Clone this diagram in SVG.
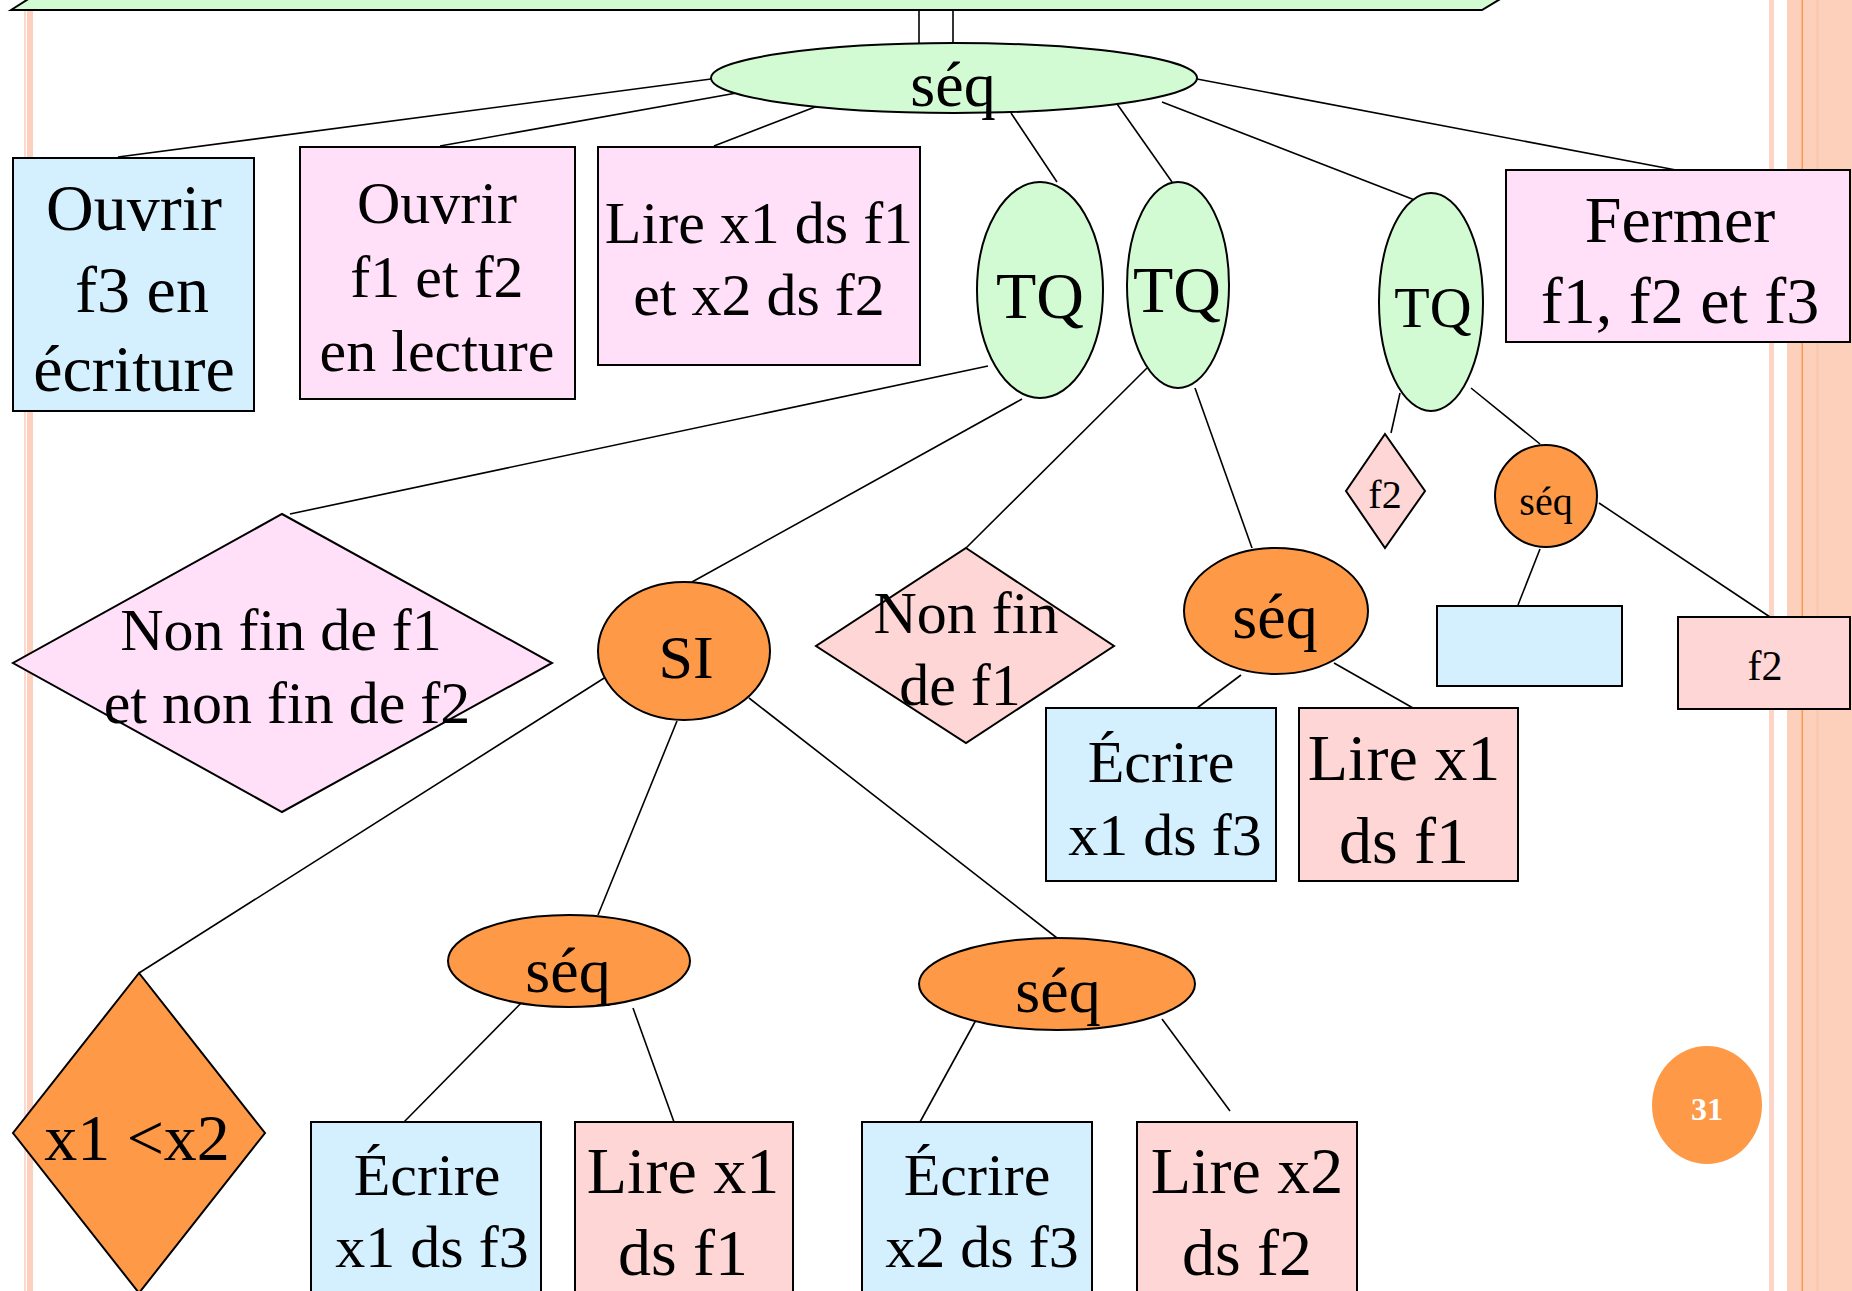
<svg xmlns="http://www.w3.org/2000/svg" width="1852" height="1291" viewBox="0 0 1852 1291">
<style>
text{font-family:"Liberation Serif","Times New Roman",serif;fill:#000;text-anchor:middle}
.s{stroke:#000;stroke-width:2}
.green{fill:#D3FBD3}.pink{fill:#FFE0F8}.blue{fill:#D4F0FE}.rose{fill:#FFD6D6}.orange{fill:#FE9A47}
#connectors line{stroke:#000;stroke-width:1.6}
.f60{font-size:60px}.f66{font-size:66px}.f64{font-size:64px}.f40{font-size:40px}
</style>
<rect width="1852" height="1291" fill="#fff"/>
<g id="decor">
<rect x="24" y="10" width="2" height="1281" fill="#FDD8CC"/>
<rect x="27" y="10" width="6" height="1281" fill="#FDD0BE"/>
<rect x="1769" y="0" width="5" height="1291" fill="#FDD5C8"/>
<rect x="1787" y="0" width="65" height="1291" fill="#FDD0BC"/>
<rect x="1801.5" y="0" width="1.5" height="1291" fill="#F99A50"/>
<rect x="1816" y="0" width="3" height="1291" fill="#FCC8B0"/>
<polygon points="11,10 30,-2 1502,-2 1482,10" class="green s"/>
</g>
<g id="connectors">
<line x1="919" y1="10" x2="919" y2="43"/>
<line x1="953" y1="10" x2="953" y2="43"/>
<line x1="711" y1="79" x2="118" y2="157"/>
<line x1="759" y1="89" x2="440" y2="146"/>
<line x1="828" y1="102" x2="714" y2="146"/>
<line x1="1011" y1="113" x2="1057" y2="182"/>
<line x1="1115" y1="101" x2="1172" y2="182"/>
<line x1="1162" y1="102" x2="1425" y2="204"/>
<line x1="1197" y1="79" x2="1676" y2="170"/>
<line x1="988" y1="366" x2="290" y2="514"/>
<line x1="1022" y1="399" x2="692" y2="582"/>
<line x1="1147" y1="368" x2="966" y2="548"/>
<line x1="1195" y1="388" x2="1252" y2="548"/>
<line x1="1400" y1="393" x2="1391" y2="433"/>
<line x1="1471" y1="388" x2="1540" y2="444"/>
<line x1="1241" y1="675" x2="1197" y2="708"/>
<line x1="1334" y1="663" x2="1413" y2="708"/>
<line x1="1540" y1="549" x2="1518" y2="605"/>
<line x1="1599" y1="503" x2="1770" y2="617"/>
<line x1="609" y1="675" x2="139" y2="973"/>
<line x1="677" y1="721" x2="598" y2="915"/>
<line x1="749" y1="698" x2="1057" y2="938"/>
<line x1="528" y1="996" x2="404" y2="1122"/>
<line x1="633" y1="1008" x2="674" y2="1122"/>
<line x1="976" y1="1020" x2="920" y2="1122"/>
<line x1="1162" y1="1019" x2="1230" y2="1111"/>
</g>
<g id="seq-main"><ellipse cx="954" cy="78" rx="243" ry="35" class="green s"/><text x="953" y="106" class="f64">séq</text></g>
<g id="ouvrir-f3"><rect x="13" y="158" width="241" height="253" class="blue s"/><text x="134" y="230" class="f66">Ouvrir</text><text x="142" y="312" class="f66">f3 en</text><text x="134" y="391" class="f66">écriture</text></g>
<g id="ouvrir-f1f2"><rect x="300" y="147" width="275" height="252" class="pink s"/><text x="437" y="223" class="f60">Ouvrir</text><text x="437" y="297" class="f60">f1 et f2</text><text x="437" y="371" class="f60">en lecture</text></g>
<g id="lire-x1x2"><rect x="598" y="147" width="322" height="218" class="pink s"/><text x="759" y="243" class="f60">Lire x1 ds f1</text><text x="759" y="315" class="f60">et x2 ds f2</text></g>
<g id="tq1"><ellipse cx="1040" cy="290" rx="63" ry="108" class="green s"/><text x="1040" y="318" class="f66">TQ</text></g>
<g id="tq2"><ellipse cx="1178" cy="285" rx="51" ry="103" class="green s"/><text x="1177" y="312" class="f66">TQ</text></g>
<g id="tq3"><ellipse cx="1431" cy="302" rx="52" ry="109" class="green s"/><text x="1433" y="327" style="font-size:58px">TQ</text></g>
<g id="fermer"><rect x="1506" y="170" width="344" height="172" class="pink s"/><text x="1680" y="242" class="f66">Fermer</text><text x="1680" y="323" class="f66">f1, f2 et f3</text></g>
<g id="cond-f1f2"><polygon points="282,514 552,663 282,812 13,663" class="pink s" stroke-width="1.6"/><text x="281" y="650" class="f60">Non fin de f1</text><text x="287" y="723" class="f60">et non fin de f2</text></g>
<g id="si"><ellipse cx="684" cy="651" rx="86" ry="69" class="orange s"/><text x="686" y="678" style="font-size:62px">SI</text></g>
<g id="cond-f1"><polygon points="966,548 1114,646 966,743 816,646" class="rose s" stroke-width="1.6"/><text x="966" y="633" class="f60">Non fin</text><text x="960" y="705" class="f60">de f1</text></g>
<g id="seq-tq2"><ellipse cx="1276" cy="611" rx="92" ry="63" class="orange s"/><text x="1275" y="638" class="f64">séq</text></g>
<g id="ecrire-x1-a"><rect x="1046" y="708" width="230" height="173" class="blue s"/><text x="1161" y="782" class="f60">Écrire</text><text x="1165" y="855" class="f60">x1 ds f3</text></g>
<g id="lire-x1-a"><rect x="1299" y="708" width="219" height="173" class="rose s"/><text x="1404" y="780" class="f66">Lire x1</text><text x="1404" y="863" class="f66">ds f1</text></g>
<g id="cond-f2"><polygon points="1385,434 1425,491 1385,548 1346,491" class="rose s" stroke-width="1.6"/><text x="1385" y="508" class="f40">f2</text></g>
<g id="seq-tq3"><ellipse cx="1546" cy="496" rx="51" ry="51" class="orange s"/><text x="1546" y="515" class="f40">séq</text></g>
<g id="blank"><rect x="1437" y="606" width="185" height="80" class="blue s"/></g>
<g id="f2-box"><rect x="1678" y="617" width="172" height="92" class="rose s"/><text x="1765" y="680" style="font-size:42px">f2</text></g>
<g id="cond-x1x2"><polygon points="139,973 265,1133 139,1293 13,1133" class="orange s" stroke-width="1.6"/><text x="137" y="1160" class="f66">x1 &lt;x2</text></g>
<g id="seq-left"><ellipse cx="569" cy="961" rx="121" ry="46" class="orange s"/><text x="568" y="992" class="f64">séq</text></g>
<g id="ecrire-x1-b"><rect x="311" y="1122" width="230" height="180" class="blue s"/><text x="427" y="1195" class="f60">Écrire</text><text x="432" y="1267" class="f60">x1 ds f3</text></g>
<g id="lire-x1-b"><rect x="575" y="1122" width="218" height="180" class="rose s"/><text x="683" y="1193" class="f66">Lire x1</text><text x="683" y="1275" class="f66">ds f1</text></g>
<g id="seq-right"><ellipse cx="1057" cy="984" rx="138" ry="46" class="orange s"/><text x="1058" y="1012" class="f64">séq</text></g>
<g id="ecrire-x2"><rect x="862" y="1122" width="230" height="180" class="blue s"/><text x="977" y="1195" class="f60">Écrire</text><text x="982" y="1267" class="f60">x2 ds f3</text></g>
<g id="lire-x2"><rect x="1137" y="1122" width="220" height="180" class="rose s"/><text x="1247" y="1193" class="f66">Lire x2</text><text x="1247" y="1275" class="f66">ds f2</text></g>
<g id="page-num"><ellipse cx="1707" cy="1105" rx="55" ry="59" fill="#FE9A47"/><text x="1707" y="1120" style="font-size:32px;font-weight:bold;fill:#fff">31</text></g>
</svg>
